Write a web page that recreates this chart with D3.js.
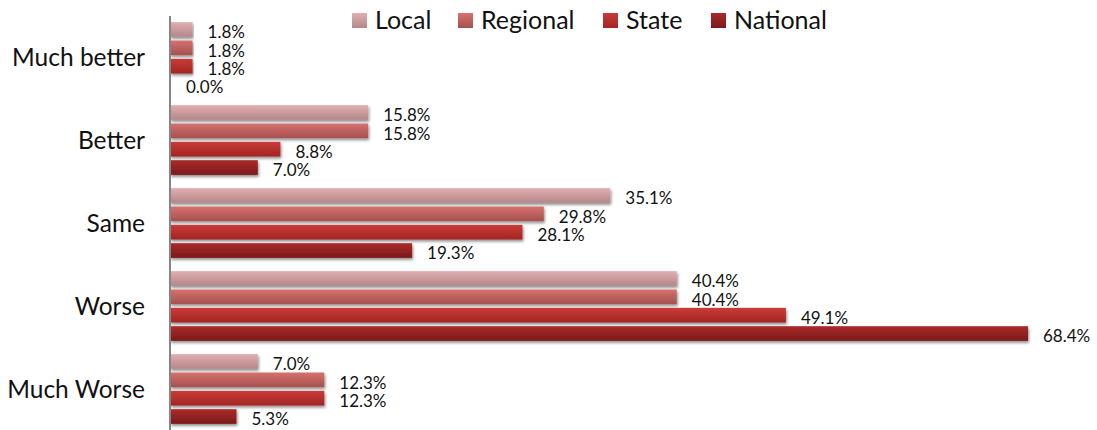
<!DOCTYPE html>
<html>
<head>
<meta charset="utf-8">
<script src="https://cdn.jsdelivr.net/npm/d3@7"></script>
<style>
  body { margin: 0; background: #fff; }
  text { font-family: Lato, "Open Sans", sans-serif; fill: #111; }
</style>
</head>
<body>
<div id="chart"></div>
<script>
const categories = ["Much better", "Better", "Same", "Worse", "Much Worse"];
const series = ["Local", "Regional", "State", "National"];
const local    = [1.8, 15.8, 35.1, 40.4, 7.0];
const regional = [1.8, 15.8, 29.8, 40.4, 12.3];
const state    = [1.8, 8.8, 28.1, 49.1, 12.3];
const national = [0.0, 7.0, 19.3, 68.4, 5.3];

const w = 1097, h = 430;
const margin = {left: 170};

const colors = {
  Local:    ["#e0afb1", "#b58788"],
  Regional: ["#d6716f", "#a5514f"],
  State:    ["#ca3b38", "#a22523"],
  National: ["#aa2b2a", "#7b1a1a"]
};

const values = {Local: local, Regional: regional, State: state, National: national};

const svg = d3.select("#chart")
  .append("svg")
  .attr("width", w)
  .attr("height", h);

const defs = svg.append("defs");
series.forEach(s => {
  const g = defs.append("linearGradient")
    .attr("id", "grad-" + s)
    .attr("x1", 0).attr("y1", 0).attr("x2", 0).attr("y2", 1);
  g.append("stop").attr("offset", "0%").attr("stop-color", colors[s][0]);
  g.append("stop").attr("offset", "100%").attr("stop-color", colors[s][1]);
});

const shadow = defs.append("filter").attr("id", "shadow")
  .attr("x", "-5%").attr("y", "-30%").attr("width", "110%").attr("height", "180%");
shadow.append("feGaussianBlur").attr("in", "SourceAlpha").attr("stdDeviation", 1.5);
shadow.append("feOffset").attr("dx", 1).attr("dy", 2).attr("result", "blur");
shadow.append("feComponentTransfer").append("feFuncA").attr("type", "linear").attr("slope", 0.45);
const merge = shadow.append("feMerge");
merge.append("feMergeNode");
merge.append("feMergeNode").attr("in", "SourceGraphic");

const x = d3.scaleLinear()
  .domain([0, 68.4])
  .range([margin.left, 1028]);

const y0 = d3.scaleBand()
  .domain(categories)
  .range([15.5, 430.5])
  .paddingInner(0.16)
  .paddingOuter(0.08);

const y1 = d3.scaleBand()
  .domain(series)
  .range([0, y0.bandwidth()])
  .paddingInner(0.2);

// category labels
svg.selectAll(".cat")
  .data(categories)
  .enter()
  .append("text")
  .attr("class", "cat")
  .attr("x", 145)
  .attr("y", d => y0(d) + y0.bandwidth() / 2)
  .attr("dy", "0.35em")
  .attr("text-anchor", "end")
  .style("font-size", "24.5px")
  .text(d => d);

const groups = svg.selectAll(".grp")
  .data(categories)
  .enter()
  .append("g")
  .attr("class", "grp")
  .attr("transform", d => "translate(0," + y0(d) + ")");

groups.selectAll("rect")
  .data((d, i) => series.map(s => ({s: s, v: values[s][i]})))
  .enter()
  .filter(d => d.v > 0)
  .append("rect")
  .attr("x", x(0))
  .attr("y", d => y1(d.s))
  .attr("width", d => x(d.v) - x(0))
  .attr("height", y1.bandwidth())
  .style("fill", d => "url(#grad-" + d.s + ")")
  .attr("filter", "url(#shadow)");

groups.selectAll(".val")
  .data((d, i) => series.map(s => ({s: s, v: values[s][i]})))
  .enter()
  .append("text")
  .attr("class", "val")
  .attr("x", d => x(d.v) + (d.v > 0 ? 15 : 16))
  .attr("y", d => y1(d.s) + y1.bandwidth() / 2 + 3)
  .attr("dy", "0.35em")
  .style("font-size", "17px")
  .text(d => d.v.toFixed(1) + "%");

// vertical axis line
svg.append("line")
  .attr("x1", x(0)).attr("x2", x(0))
  .attr("y1", 16).attr("y2", h)
  .style("stroke", "#858585")
  .style("stroke-width", 2);

// legend
const legendX = [352, 458, 603, 711];
const legend = svg.selectAll(".leg")
  .data(series)
  .enter()
  .append("g")
  .attr("class", "leg")
  .attr("transform", (d, i) => "translate(" + legendX[i] + ",0)");

legend.append("rect")
  .attr("x", 0).attr("y", 13)
  .attr("width", 15).attr("height", 15)
  .style("fill", d => "url(#grad-" + d + ")");

legend.append("text")
  .attr("x", 23)
  .attr("y", 20)
  .attr("dy", "0.35em")
  .style("font-size", "25px")
  .text(d => d);
</script>
</body>
</html>
